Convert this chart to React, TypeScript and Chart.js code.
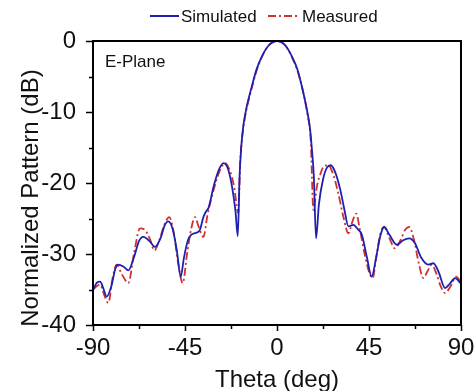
import React, { useEffect, useRef } from "react";
import { Chart, registerables } from "chart.js";

Chart.register(...registerables);

// ---- Data ----
const simTheta = [
  -90, -88, -86.5, -85, -83.3, -81, -79, -77.6, -75, -72.7, -70, -67.5, -65.4, -62, -59.7, -57, -55, -53.2,
  -51, -49, -47.1, -45.5, -43.5, -42, -39.5, -37.7, -36, -34.7, -33.5, -31, -28.5, -26.2, -24, -22, -20.3,
  -19.2, -18.3, -17.5, -16.5, -15, -12.5, -10, -7.8, -4, 0, 4, 7.7, 10, 12, 14.5, 16, 17, 18, 19.1, 20.5,
  22.5, 24.5, 26.3, 28.5, 31, 33, 34.9, 37.4, 39.5, 41.5, 44, 46.3, 48.5, 50.5, 52.4, 55, 58.6, 61.5, 64.7,
  67.5, 70.5, 74, 76.5, 79, 82.2, 84.5, 87.1, 90,
];
const simDb = [
  -35.1, -34.0, -33.9, -34.8, -36.0, -34.5, -32.0, -31.5, -31.8, -32.3, -30.5, -28.2, -27.6, -28.3, -29.0,
  -27.8, -26.0, -25.4, -26.5, -29.5, -33.2, -30.5, -28.0, -27.3, -27.0, -26.6, -24.8, -24.0, -23.5, -20.5,
  -18.2, -17.2, -18.0, -20.5, -24.0, -27.5, -19.0, -15.0, -12.0, -9.5, -6.6, -4.0, -2.4, -0.6, 0, -0.6,
  -2.4, -4.0, -6.2, -9.5, -12.0, -15.0, -19.0, -27.8, -23.0, -19.5, -17.8, -17.5, -18.5, -21.0, -23.8,
  -26.1, -25.9, -26.5, -27.3, -30.5, -33.2, -30.5, -27.5, -26.2, -27.3, -28.7, -28.1, -27.8, -28.5, -30.5,
  -31.5, -31.3, -32.5, -34.8, -34.2, -33.4, -34.2,
];
const measTheta = [
  -90, -88, -86.5, -84.5, -82.5, -80.5, -78.4, -76, -72.7, -70, -67, -64.6, -62, -60, -57.5, -55, -52.7,
  -50.5, -48.5, -46.1, -44, -42, -40.1, -38.5, -36, -34, -31, -28, -25.4, -23, -21, -18.9, -18, -17, -15.5,
  -12.5, -10, -7.5, -4, 0, 4, 7.5, 10, 12.5, 15, 16.5, 17.8, 19.5, 21.5, 23, 25.1, 27.5, 30, 32.5, 34.9,
  36.8, 38.7, 40.5, 43, 45, 46.8, 48.5, 50.5, 52.4, 55, 57.7, 60.5, 62.7, 64.7, 67, 69.5, 71.6, 73.5, 75.7,
  78, 80, 82.2, 85, 87.6, 90,
];
const measDb = [
  -35.0, -34.5, -34.3, -35.8, -36.9, -33.5, -31.5, -32.8, -34.1, -30.0, -26.4, -26.6, -28.0, -29.5, -28.0,
  -25.8, -24.8, -27.0, -31.0, -34.1, -30.0, -26.5, -24.8, -26.0, -27.6, -24.5, -21.0, -18.3, -17.2, -18.3,
  -20.5, -24.2, -17.0, -13.5, -10.5, -6.8, -4.2, -2.3, -0.6, 0, -0.6, -2.4, -4.2, -6.8, -10.5, -14.0,
  -23.8, -20.5, -18.5, -17.6, -17.5, -18.8, -21.5, -24.8, -27.1, -25.5, -24.3, -26.5, -30.2, -32.5, -33.4,
  -30.5, -27.2, -26.2, -27.8, -29.2, -28.0, -26.6, -26.2, -28.0, -31.5, -33.4, -32.5, -31.5, -32.8, -34.5,
  -35.5, -34.5, -33.2, -34.0,
];
const xMajorTicks = [-90, -45, 0, 45, 90];
const xMinorTicks = [-67.5, -22.5, 22.5, 67.5];
const yMajorTicks = [0, -10, -20, -30, -40];
const yMinorTicks = [-5, -15, -25, -35];
const seriesNames = ["Simulated", "Measured"];
const xTitle = "Theta (deg)";
const yTitle = "Normalized Pattern (dB)";
const planeLabel = "E-Plane";

const FONT = '"Liberation Sans", Arial, sans-serif';
const BLUE = "#1f1fb0";
const RED = "#d03030";
const RED_DASH = [8, 3, 2, 3];

const decorPlugin = {
  id: "decor",
  afterDraw(chart: any) {
    const ctx = chart.ctx;
    const { left, right, top, bottom } = chart.chartArea;
    const xs = chart.scales.x;
    const ys = chart.scales.y;
    ctx.save();
    // frame
    ctx.strokeStyle = "#000";
    ctx.lineWidth = 2;
    ctx.setLineDash([]);
    ctx.strokeRect(left, top, right - left, bottom - top);
    // ticks
    ctx.lineWidth = 1.5;
    ctx.beginPath();
    xMajorTicks.forEach((v) => {
      const px = Math.round(xs.getPixelForValue(v)) + 0.5;
      ctx.moveTo(px, bottom);
      ctx.lineTo(px, bottom + 6);
    });
    xMinorTicks.forEach((v) => {
      const px = Math.round(xs.getPixelForValue(v)) + 0.5;
      ctx.moveTo(px, bottom);
      ctx.lineTo(px, bottom + 4);
    });
    yMajorTicks.forEach((v) => {
      const py = Math.round(ys.getPixelForValue(v)) + 0.5;
      ctx.moveTo(left, py);
      ctx.lineTo(left - 7, py);
    });
    yMinorTicks.forEach((v) => {
      const py = Math.round(ys.getPixelForValue(v)) + 0.5;
      ctx.moveTo(left, py);
      ctx.lineTo(left - 4, py);
    });
    ctx.stroke();

    ctx.fillStyle = "#111";
    // x title
    ctx.font = `24px ${FONT}`;
    ctx.textAlign = "center";
    ctx.textBaseline = "alphabetic";
    ctx.fillText(xTitle, (left + right) / 2, 387);
    // y title
    ctx.save();
    ctx.translate(38, 198);
    ctx.rotate(-Math.PI / 2);
    ctx.fillText(yTitle, 0, 0);
    ctx.restore();
    // plane label
    ctx.font = `17px ${FONT}`;
    ctx.textAlign = "left";
    ctx.fillText(planeLabel, 105, 67);
    // legend
    ctx.lineWidth = 2;
    ctx.strokeStyle = BLUE;
    ctx.beginPath();
    ctx.moveTo(150, 16);
    ctx.lineTo(179, 16);
    ctx.stroke();
    ctx.strokeStyle = RED;
    ctx.setLineDash(RED_DASH);
    ctx.beginPath();
    ctx.moveTo(268, 16);
    ctx.lineTo(298, 16);
    ctx.stroke();
    ctx.setLineDash([]);
    ctx.font = `17px ${FONT}`;
    ctx.fillText(seriesNames[0], 181, 22);
    ctx.fillText(seriesNames[1], 302, 22);
    ctx.restore();
  },
};

export default function App() {
  const ref = useRef<HTMLCanvasElement>(null);
  useEffect(() => {
    if (!ref.current) return;
    const chart = new Chart(ref.current, {
      type: "line",
      data: {
        datasets: [
          {
            label: seriesNames[0],
            data: simTheta.map((t, i) => ({ x: t, y: simDb[i] })),
            borderColor: BLUE,
            borderWidth: 1.8,
            pointRadius: 0,
            cubicInterpolationMode: "monotone",
            fill: false,
          },
          {
            label: seriesNames[1],
            data: measTheta.map((t, i) => ({ x: t, y: measDb[i] })),
            borderColor: RED,
            borderWidth: 1.8,
            borderDash: RED_DASH,
            pointRadius: 0,
            cubicInterpolationMode: "monotone",
            fill: false,
          },
        ],
      },
      options: {
        responsive: false,
        animation: false,
        layout: { padding: { top: 41, right: 13, left: 0, bottom: 0 } },
        plugins: { legend: { display: false }, tooltip: { enabled: false } },
        scales: {
          x: {
            type: "linear",
            min: -90,
            max: 90,
            grid: { display: false },
            border: { display: false },
            ticks: {
              stepSize: 45,
              padding: 1,
              color: "#111",
              font: { family: FONT, size: 24 },
              maxRotation: 0,
            },
            afterFit: (s: any) => {
              s.height = 66;
              s.paddingLeft = 0;
              s.paddingRight = 0;
            },
          },
          y: {
            min: -40,
            max: 0,
            grid: { display: false },
            border: { display: false },
            ticks: {
              stepSize: 10,
              padding: 9,
              color: "#111",
              font: { family: FONT, size: 24 },
            },
            afterFit: (s: any) => {
              s.width = 93;
              s.paddingTop = 0;
              s.paddingBottom = 0;
            },
          },
        },
      },
      plugins: [decorPlugin],
    });
    return () => chart.destroy();
  }, []);
  return (
    <div style={{ position: "absolute", left: 0, top: 0, width: 474, height: 391, background: "#fff" }}>
      <canvas ref={ref} width={474} height={391} />
    </div>
  );
}
